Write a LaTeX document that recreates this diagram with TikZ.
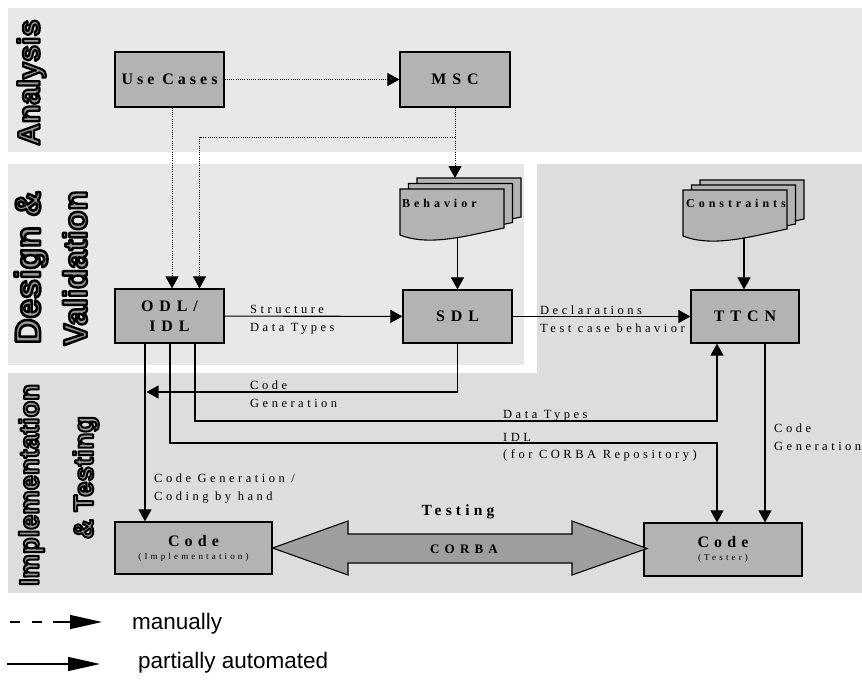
\documentclass[tikz,border=0pt]{standalone}
\usepackage{fontspec}
\setmainfont{Liberation Serif}
\newfontfamily\bxf[LetterSpace=37]{Liberation Serif}
\newfontfamily\ucf[LetterSpace=25]{Liberation Serif}
\newfontfamily\cdf[LetterSpace=32]{Liberation Serif}
\newfontfamily\lbf[LetterSpace=28]{Liberation Serif}
\newfontfamily\docf[LetterSpace=33]{Liberation Serif}
\newfontfamily\smf[LetterSpace=35]{Liberation Serif}
\newfontfamily\tstf[LetterSpace=27]{Liberation Serif}
\newfontfamily\corf[LetterSpace=40]{Liberation Serif}
\newfontfamily\legf{Liberation Sans}
\newfontfamily\bandf{Liberation Sans}
\usetikzlibrary{arrows.meta,calc}
\definecolor{bandA}{HTML}{E8E8E8}
\definecolor{bandB}{HTML}{DDDDDD}
\definecolor{boxgray}{HTML}{B3B3B3}
\definecolor{arrgray}{HTML}{9E9E9E}
\definecolor{labelgray}{HTML}{999999}
\newcommand\hollowtxt[1]{\special{pdf:literal direct 0 G 2.2 w 1 j 2 Tr}#1\special{pdf:literal direct 0 Tr}}
\tikzset{docsheet/.pic={\draw[line width=1.1pt, fill=boxgray] (0,0) -- (104,0) -- (104,39) .. controls (70,46) and (30,58) .. (0,46) -- cycle;}}
\begin{document}
\begin{tikzpicture}[x=1pt,y=-1pt,
  box/.style={draw, line width=1.2pt, fill=boxgray, inner sep=0pt, align=center},
  arr/.style={line width=1.1pt, -{Triangle[length=12pt,width=13pt]}},
  dotarr/.style={line width=0.8pt, dash pattern=on 1pt off 1.2pt, -{Triangle[length=12pt,width=13pt]}},
  lbl/.style={anchor=base west, inner sep=0pt, font=\lbf\fontsize{12.5}{14}\selectfont},
  band/.style={rotate=90, inner sep=0pt, text=labelgray, font=\bandf\bfseries\fontsize{30}{30}\selectfont},
  boxtext/.style={font=\bxf\bfseries\fontsize{16}{20}\selectfont}
]
\useasboundingbox (0,0) rectangle (862,693);
\fill[white] (0,0) rectangle (862,693);
% bands
\fill[bandA] (8,8) rectangle (862,152);
\fill[bandA] (8,164) rectangle (524,365);
\fill[bandB] (537,164) rectangle (862,373);
\fill[bandB] (8,373) rectangle (862,593);
% band labels
\node[band] (lana) at (31.5,82.5) {\hollowtxt{\resizebox{126pt}{!}{Analysis}}};
\node[band] (ldes) at (31,267.5) {\hollowtxt{\resizebox{153pt}{!}{Design \&}}};
\node[band] (lval) at (75,268) {\hollowtxt{\resizebox{155pt}{!}{Validation}}};
\node[band] (limp) at (31.5,485) {\hollowtxt{\resizebox{202pt}{!}{Implementation}}};
\node[band] (ltst) at (86,477.5) {\hollowtxt{\resizebox{123pt}{!}{\& Testing}}};
% documents
\pic at (417,178) {docsheet};
\pic at (408.5,183.5) {docsheet};
\pic at (400,189) {docsheet};
\pic at (700,180) {docsheet};
\pic at (691.5,185) {docsheet};
\pic at (683,190) {docsheet};
\node[anchor=base west, inner sep=0pt, font=\docf\bfseries\fontsize{12}{14}\selectfont] (beh) at (402,207) {Behavior};
\node[anchor=base west, inner sep=0pt, font=\docf\bfseries\fontsize{12}{14}\selectfont] (con) at (686,207) {Constraints};
\coordinate (behtop) at (455,178);
\coordinate (behbot) at (457.5,238);
\coordinate (conbot) at (744,238);
% boxes
\node[box, minimum width=109pt, minimum height=55pt, font=\ucf\bfseries\fontsize{16}{20}\selectfont] (uc) at (169.5,79.5) {Use Cases};
\node[box, minimum width=110pt, minimum height=55pt, boxtext] (msc) at (455,79.5) {MSC};
\node[box, minimum width=109pt, minimum height=54pt, boxtext] (odl) at (169.5,316) {ODL/\\IDL};
\node[box, minimum width=109pt, minimum height=53pt, boxtext] (sdl) at (457.5,316.5) {SDL};
\node[box, minimum width=108pt, minimum height=53pt, boxtext] (ttcn) at (745,316.5) {TTCN};
\node[box, minimum width=157pt, minimum height=52pt] (ci) at (193.5,548) {{\cdf\bfseries\fontsize{16}{16}\selectfont Code}\\[1pt]{\smf\fontsize{9}{10}\selectfont (Implementation)}};
\node[box, minimum width=158pt, minimum height=53pt] (ct) at (723,549.5) {{\cdf\bfseries\fontsize{16}{16}\selectfont Code}\\[1pt]{\smf\fontsize{9}{10}\selectfont (Tester)}};
% big double arrow
\draw[line width=1.1pt, fill=arrgray] (ci.east) -- (348,521) -- (348,534) -- (572,534) -- (572,521) -- (647,548.5) -- (572,575) -- (572,563) -- (348,563) -- (348,575) -- cycle;
\node[font=\tstf\bfseries\fontsize{15.5}{15}\selectfont] (testing) at (458,512) {Testing};
\node[font=\corf\bfseries\fontsize{13}{13}\selectfont] (corba) at (464,549) {CORBA};
% dotted connectors
\coordinate (br) at (455,137);
\draw[dotarr] (uc) -- (msc);
\draw[dotarr] ([xshift=2.5pt]uc.south) -- ([xshift=2.5pt]odl.north);
\draw[dotarr] (msc.south) -- (behtop);
\draw[dotarr] (br) -| ([xshift=30pt]odl.north);
% solid connectors
\draw[arr] (behbot) -- (sdl.north);
\draw[arr] (conbot) -- ([xshift=-1pt]ttcn.north);
\draw[arr] (odl) -- (sdl);
\draw[arr] (sdl) -- (ttcn);
\coordinate (cgend) at (146.5,392);
\draw[arr] (sdl.south) |- (cgend);
\path ([xshift=-24.5pt]odl.south) coordinate (o1) ([xshift=0.5pt]odl.south) coordinate (o2) ([xshift=25.5pt]odl.south) coordinate (o3) ([xshift=20pt]ttcn.south) coordinate (t2);
\coordinate (dtc) at (717,421);
\coordinate (idc) at (717,443);
\draw[arr] (o1) -- (o1 |- ci.north);
\draw[arr] (o3) |- (dtc) -- (dtc |- ttcn.south);
\draw[arr] (o2) |- (idc) -- (idc |- ct.north);
\draw[arr] (t2) -- (t2 |- ct.north);
% labels
\node[lbl] (ls1) at (250,313) {Structure};
\node[lbl] (ls2) at (250,331) {Data Types};
\node[lbl] (ld1) at (540,314) {Declarations};
\node[lbl] (ld2) at (540,332) {Test case behavior};
\node[lbl] (lc1) at (250,389) {Code};
\node[lbl] (lc2) at (250,407) {Generation};
\node[lbl] (ldt) at (503,418) {Data Types};
\node[lbl] (li1) at (503,441) {IDL};
\node[lbl] (li2) at (503,458) {(for CORBA Repository)};
\node[lbl] (lg1) at (774,432) {Code};
\node[lbl] (lg2) at (774,450) {Generation};
\node[lbl] (lh1) at (154,482) {Code Generation /};
\node[lbl] (lh2) at (154,500) {Coding by hand};
% legend
\coordinate (l1a) at (10,622); \coordinate (l1b) at (102,622);
\coordinate (l2a) at (7,664); \coordinate (l2b) at (100,664);
\draw[line width=1.3pt, dash pattern=on 10pt off 11.7pt on 10pt off 11.7pt on 60pt off 1pt, -{Triangle[length=32pt,width=14pt]}] (l1a) -- (l1b);
\draw[line width=1.3pt, -{Triangle[length=32pt,width=14pt]}] (l2a) -- (l2b);
\node[anchor=base west, inner sep=0pt, font=\legf\fontsize{22.5}{25}\selectfont] (man) at (132,629) {manually};
\node[anchor=base west, inner sep=0pt, font=\legf\fontsize{22.5}{25}\selectfont] (pa) at (138,668) {partially automated};
\end{tikzpicture}
\end{document}
